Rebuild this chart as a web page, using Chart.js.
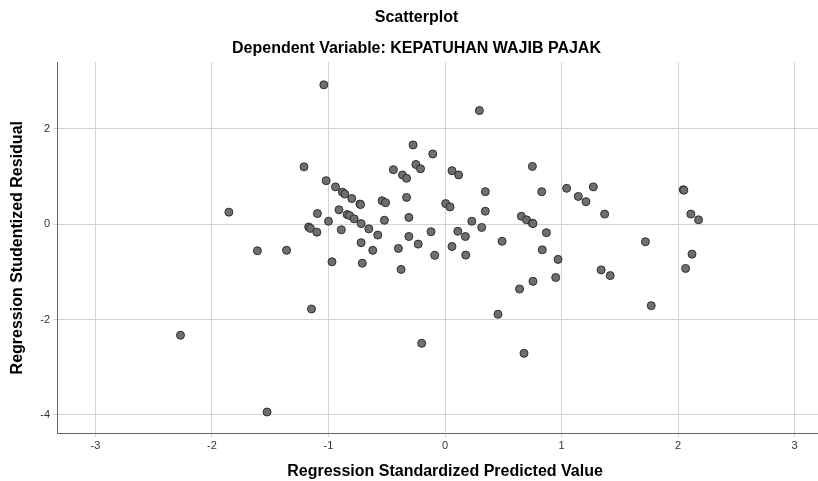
<!DOCTYPE html>
<html>
<head>
<meta charset="utf-8">
<script src="https://cdn.jsdelivr.net/npm/chart.js@4/dist/chart.umd.min.js"></script>
<style>
  html, body { margin: 0; padding: 0; background: #fff; overflow: hidden; }
  #wrap { width: 818px; height: 481px; overflow: hidden; }
</style>
</head>
<body>
<div id="wrap"><canvas id="residPlot" width="840" height="481"></canvas></div>
<script>
// standardized predicted value (x) and studentized residual (y)
var predicted = [
  -1.04, 0.295, -0.274, -0.105, -1.21, 0.75, -0.25, -0.21, -0.443, 0.06,
  0.117, -0.365, -0.33, -1.02, -0.94, -0.88, -0.86, -0.80, -0.73, -0.725,
  -0.54, -0.51, -0.33, 0.006, 0.043, 0.346, 0.346, 0.83, 1.044, 1.144,
  1.21, 1.273, 1.37, 2.045, 2.05, 2.11, 2.176, -1.855, -1.095, -0.91,
  -0.84, -0.82, -0.78, -1.0, -0.72, -0.654, -0.577, -0.52, -0.31, -1.17,
  -1.155, -1.10, -0.89, -0.72, -0.62, -0.40, -0.97, -0.71, -0.377, -1.61,
  -1.36, 0.23, 0.315, -0.12, 0.11, 0.175, -0.31, -0.23, 0.06, -0.088,
  0.178, 0.49, 0.655, 0.70, 0.75, 0.755, 0.87, 0.835, 0.97, 1.34,
  1.418, 0.95, 0.755, 0.64, 1.72, 2.12, 2.065, 1.77, -2.27, -1.527,
  -1.146, -0.2, 0.455, 0.678
];
var residual = [
  2.92, 2.38, 1.66, 1.47, 1.20, 1.21, 1.25, 1.16, 1.14, 1.12,
  1.03, 1.03, 0.96, 0.91, 0.78, 0.67, 0.63, 0.535, 0.42, 0.41,
  0.49, 0.45, 0.56, 0.43, 0.36, 0.68, 0.27, 0.68, 0.75, 0.58,
  0.47, 0.78, 0.21, 0.72, 0.71, 0.21, 0.09, 0.25, 0.22, 0.30,
  0.20, 0.18, 0.11, 0.06, 0.01, -0.10, -0.23, 0.08, 0.14, -0.06,
  -0.09, -0.17, -0.12, -0.39, -0.55, -0.51, -0.79, -0.82, -0.95, -0.56,
  -0.55, 0.06, -0.07, -0.16, -0.15, -0.26, -0.26, -0.42, -0.47, -0.655,
  -0.65, -0.36, 0.165, 0.09, 0.02, 0.01, -0.18, -0.54, -0.74, -0.96,
  -1.08, -1.12, -1.20, -1.36, -0.37, -0.63, -0.93, -1.71, -2.33, -3.94,
  -1.78, -2.50, -1.89, -2.71
];
var xTicks = [-3, -2, -1, 0, 1, 2, 3];
var yTicks = [-4, -2, 0, 2];

var points = predicted.map(function (x, i) { return { x: x, y: residual[i] }; });

var fontName = "'Liberation Sans', Arial, sans-serif";
var gridColor = "#d3d3d3";

new Chart(document.getElementById("residPlot"), {
  type: "scatter",
  data: {
    datasets: [{
      data: points,
      pointRadius: 4,
      pointHoverRadius: 4,
      pointBackgroundColor: "#6f6f6f",
      pointBorderColor: "#2e2e2e",
      pointBorderWidth: 1
    }]
  },
  options: {
    responsive: false,
    devicePixelRatio: 1,
    animation: false,
    layout: { padding: { left: 0, right: 7, top: 0, bottom: 0 } },
    plugins: {
      legend: { display: false },
      tooltip: { enabled: false },
      title: {
        display: true,
        text: "Scatterplot",
        color: "#000",
        font: { family: fontName, size: 16, weight: "bold" },
        padding: { top: 8, bottom: 6 }
      },
      subtitle: {
        display: true,
        text: "Dependent Variable: KEPATUHAN WAJIB PAJAK",
        color: "#000",
        font: { family: fontName, size: 16, weight: "bold" },
        padding: { top: 6, bottom: 4 }
      }
    },
    scales: {
      x: {
        type: "linear",
        min: -3.33,
        max: 3.33,
        afterBuildTicks: function (s) { s.ticks = xTicks.map(function (v) { return { value: v }; }); },
        afterFit: function (s) { s.height = 48; },
        grid: { color: gridColor, tickLength: 4, tickColor: gridColor },
        border: { color: "#666", width: 1 },
        ticks: { color: "#333", font: { family: fontName, size: 11 }, padding: 2, maxRotation: 0 },
        title: {
          display: true,
          text: "Regression Standardized Predicted Value",
          color: "#000",
          font: { family: fontName, size: 16, weight: "bold" },
          padding: { top: 0, bottom: 0 }
        }
      },
      y: {
        type: "linear",
        min: -4.38,
        max: 3.39,
        afterBuildTicks: function (s) { s.ticks = yTicks.map(function (v) { return { value: v }; }); },
        afterFit: function (s) { s.width = 57; },
        grid: { color: gridColor, tickLength: 4, tickColor: gridColor },
        border: { color: "#666", width: 1 },
        ticks: { color: "#333", font: { family: fontName, size: 11 }, padding: 3 },
        title: {
          display: true,
          text: "Regression Studentized Residual",
          color: "#000",
          font: { family: fontName, size: 16, weight: "bold" },
          padding: { top: 8, bottom: 0 }
        }
      }
    }
  }
});
</script>
</body>
</html>
